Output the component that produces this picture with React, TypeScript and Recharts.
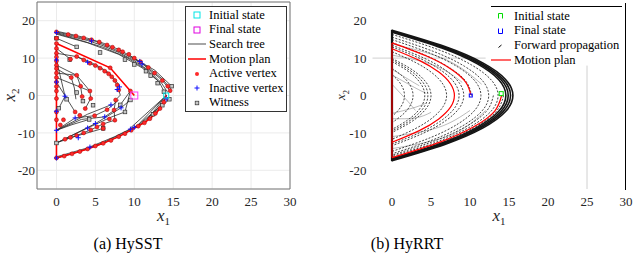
import React from "react";
import {
  ComposedChart,
  Line,
  Scatter,
  XAxis,
  YAxis,
  CartesianGrid,
  ReferenceLine,
  Legend,
  Label,
} from "recharts";

type Pt = [number, number];

const xTicks = [0, 5, 10, 15, 20, 25, 30];
const yTicks = [-20, -10, 0, 10, 20];

// ---- (a) HySST ----
const hysstTree: Pt[][] = [
  [[0, 17], [1.5, 16.3], [3, 15.5], [5, 14.5], [7, 12.8], [9, 10.8], [11, 8.5], [12.5, 6], [13.7, 3.8], [14.6, 1.3]],
  [[0, 17.2], [2, 16.3], [4, 15.3], [6, 14], [8, 12.3], [10, 10], [12, 7.2], [13.6, 4.4], [14.7, 1.8]],
  [[0, 16.8], [2, 15.7], [4, 14.7], [6, 13.3], [8, 11.5], [10, 9.3], [12, 6.5], [13.5, 3.3], [14.3, 0.8]],
  [[0, 16.6], [3, 14.8], [6, 12.9], [9, 10.2], [11.5, 7], [13.2, 3.6], [14.1, 0]],
  [[0, 16.4], [4, 14.1], [8, 11], [11, 7.4], [13, 4]],
  [[9.5, 10.5], [12.6, 6.8], [14.8, 2.5]],
  [[0, -16.7], [2, -15.6], [4, -14.3], [6, -12.8], [8, -11], [10, -8.8], [11.5, -7], [12.8, -4.8], [13.6, -2.5], [14.1, 0]],
  [[0, -16.7], [3, -14.9], [6, -12.6], [9, -9.6], [11, -7.4], [12.6, -4.4], [13.8, -1.5], [14.1, 0]],
  [[0, -16.4], [4, -14], [7.5, -11], [10.5, -7.9], [13, -3.5]],
  [[9.5, -8.7], [14.1, 0]],
  [[10.5, -7.8], [14.1, 0]],
  [[11.6, -6.6], [14.1, 0]],
  [[12.6, -4.6], [14.5, -1]],
  [[0, 15.3], [2.6, 13]],
  [[0, 12.6], [1.8, 9.7]],
  [[0, 11.3], [2.6, 10.4], [4.3, 8.6], [5.6, 7.3], [6.7, 5.8], [7.5, 4], [8, 1.5], [8.2, 0.1]],
  [[2.6, 10.4], [4.1, 9.2], [5.5, 7.7], [6.8, 6], [7.8, 3.5], [8.1, 2.3]],
  [[8.2, 0.1], [7.6, -1.2], [7.4, -3.9], [7.5, -6.6]],
  [[0, 8.1], [2.6, 5.4], [3.1, 2.5], [3.3, -0.3]],
  [[0, 7.2], [1.9, 4.8], [2.3, 2], [2.5, -1]],
  [[0, 6], [2.6, 5.4], [4.3, 1.2]],
  [[0, 4.8], [4.3, 1.2], [4.4, -0.8], [3.7, -3.5]],
  [[0, 9.5], [1.1, -0.2]],
  [[0, 3.6], [2.4, -4.4]],
  [[0.3, -3.4], [1.1, -0.2]],
  [[0, -9.3], [2.4, -6], [4.9, -5.4], [6.5, -3.8], [8, -1.2]],
  [[0, -9.3], [3.2, -6.4], [6.2, -5.7], [8.1, -3]],
  [[0, -9.3], [4, -5], [7, -2.5]],
  [[0, -9.3], [2, -7.8], [4.2, -6.4]],
  [[0, -12.7], [2.6, -10.7], [4.4, -9.2], [6, -7.6], [7.5, -6.6]],
  [[0, -12.7], [4, -8.7], [7, -5.8], [8.8, -4.4]],
  [[0, -12.7], [5, -7.5], [8.3, -3.3], [9.5, -1.2]],
  [[1.1, -11.7], [6, -8.8]],
  [[9.5, 1.2], [8.8, -4.4]],
  [[9.5, 1.2], [8.2, -2.5]],
];

const hysstPlan: Pt[][] = [
  [[14.1, 0], [13.6, -2.5], [12.8, -4.8], [11.5, -7], [10, -8.8], [8, -11], [6, -12.8], [4, -14.3], [2, -15.6], [0, -16.7]],
  [[0, -16.7], [0, 13.9]],
  [[0, 13.9], [6.9, 7.4], [9.5, 1.2], [10, 0]],
];

const hysstActive: Pt[] = [
  [0, 17], [0, 15.3], [0, 13.9], [0, 12.6], [0, 11.3], [0, 10.3], [0, 9.2], [0, 8.1], [0, 7.2], [0, 6],
  [0, 4.8], [0, 3.6], [0, 2.4], [0, 1.2], [0, -0.8], [0, -4.4], [0, -6.5], [0, -16.7],
  [1.5, 16.3], [2.5, 15.9], [3.5, 15.4], [4.5, 14.9], [5.5, 14.3], [6.5, 13.5], [7.2, 12.9], [8, 12.2],
  [8.5, 11.7], [9.3, 11], [10, 10], [10.8, 9], [11.8, 7.5], [12.6, 6], [13.6, 4], [14.3, 2.5], [14.6, 1.3],
  [1, -16.2], [2, -15.6], [3, -15], [4, -14.3], [5, -13.5], [6, -12.8], [7, -12], [8, -11], [8.8, -10.2],
  [9.6, -9.3], [10.5, -8.2], [11.3, -7.3], [12, -6.2], [12.7, -4.8], [13.3, -3.5], [13.8, -1.8],
  [2.6, 10.4], [3.5, 9.5], [4.3, 8.6], [5, 8], [5.6, 7.3], [6.2, 6.5], [6.7, 5.8], [7.1, 5], [7.5, 4],
  [7.8, 2.8], [8, 1.5], [7.6, -1.2], [7.4, -3.9], [7.5, -6.6],
  [1.1, -11.7], [1.8, -11.2], [2.6, -10.7], [3.5, -10], [4.4, -9.2], [5.2, -8.4], [6, -7.6], [6.8, -6.3], [6, -8.8],
  [1.9, 4.8], [2.6, 5.4], [3.1, 2.5], [3.3, -0.3], [4.3, 1.2], [4.4, -0.8], [3.7, -3.5], [3, -5.3],
  [2.4, -4.4], [1.8, 9.7], [9.5, 1.2], [6.9, 7.4], [0.9, -6.5], [0.5, -7.9], [4.9, -5.4], [6.5, -3.8],
];

const hysstInactive: Pt[] = [
  [0, 16.8], [0, -9.3], [0, -16.7], [0, 3.6], [0, 9.5], [4.5, 14.6], [10.7, 9.1], [11, 8.4], [4, 8.9],
  [2.4, -6], [4, -8.7], [4.3, -13.8], [7.8, 1.6], [8.1, 2.3], [9.5, -9], [10, -8.5], [14.1, -0.9],
  [1.1, -0.2], [2.8, -11.3], [5, -7.5], [6.2, -5.7], [7, -2.5], [8.3, -3.3], [0, -4.2],
];

const hysstWitness: Pt[] = [
  [2.6, 13], [14.5, -1], [14.8, 2.5], [13.8, 1], [13, 3.3], [12.1, 5.3], [11.5, 6.5], [10, 8.3], [8.8, 9.6],
  [5.6, 11.5], [0, -12.7], [8.8, -4.4], [6, -8.8], [4.2, -6.4], [0.3, -3.4], [1.3, -1], [2.6, 0.8],
  [4.7, -2.6], [3.4, -1.5], [13.6, -2.6], [12.4, -5], [0, 15.3], [1.7, 9.6], [9.5, -1.2], [8.2, -2.5],
];

const hysstStart: Pt[] = [[14.1, 0]];
const hysstGoal: Pt[] = [[10, 0]];

// ---- (b) HyRRT ----
const hyrrtArcs: Pt[][] = [
  [[0, 17.43], [6.78, 13.07], [11.63, 8.72], [14.53, 4.36], [15.5, 0], [14.53, -4.36], [11.63, -8.72], [6.78, -13.07], [0, -17.43]],
  [[0, 17.26], [6.65, 12.95], [11.4, 8.63], [14.25, 4.32], [15.2, 0], [14.25, -4.32], [11.4, -8.63], [6.65, -12.95], [0, -17.26]],
  [[0, 17.09], [6.52, 12.82], [11.18, 8.55], [13.97, 4.27], [14.9, 0], [13.97, -4.27], [11.18, -8.55], [6.52, -12.82], [0, -17.09]],
  [[0, 16.92], [6.39, 12.69], [10.95, 8.46], [13.69, 4.23], [14.6, 0], [13.69, -4.23], [10.95, -8.46], [6.39, -12.69], [0, -16.92]],
  [[0, 16.33], [5.95, 12.25], [10.2, 8.16], [12.75, 4.08], [13.6, 0], [12.75, -4.08], [10.2, -8.16], [5.95, -12.25], [0, -16.33]],
  [[0, 15.59], [5.43, 11.69], [9.3, 7.8], [11.63, 3.9], [12.4, 0], [11.63, -3.9], [9.3, -7.8], [5.43, -11.69], [0, -15.59]],
  [[0, 14.95], [4.99, 11.21], [8.55, 7.47], [10.69, 3.74], [11.4, 0], [10.69, -3.74], [8.55, -7.47], [4.99, -11.21], [0, -14.95]],
  [[0, 13.43], [4.03, 10.07], [6.9, 6.71], [8.63, 3.36], [9.2, 0], [8.63, -3.36], [6.9, -6.71], [4.03, -10.07], [0, -13.43]],
  [[0, 12.98], [3.76, 9.74], [6.45, 6.49], [8.06, 3.25], [8.6, 0], [8.06, -3.25], [6.45, -6.49], [3.76, -9.74], [0, -12.98]],
  [[0, 11.71], [3.06, 8.78], [5.25, 5.86], [6.56, 2.93], [7, 0], [6.56, -2.93], [5.25, -5.86], [3.06, -8.78], [0, -11.71]],
  [[0, 9.9], [2.19, 7.42], [3.75, 4.95], [4.69, 2.47], [5, 0], [4.69, -2.47], [3.75, -4.95], [2.19, -7.42], [0, -9.9]],
  [[0, 9.5], [2.01, 7.12], [3.45, 4.75], [4.31, 2.37], [4.6, 0], [4.31, -2.37], [3.45, -4.75], [2.01, -7.12], [0, -9.5]],
  [[0, 9.07], [1.84, 6.8], [3.15, 4.54], [3.94, 2.27], [4.2, 0], [3.94, -2.27], [3.15, -4.54], [1.84, -6.8], [0, -9.07]],
  [[0, 7.27], [1.18, 5.45], [2.03, 3.64], [2.53, 1.82], [2.7, 0], [2.53, -1.82], [2.03, -3.64], [1.18, -5.45], [0, -7.27]],
  [[0, 5.6], [0.7, 4.2], [1.2, 2.8], [1.5, 1.4], [1.6, 0], [1.5, -1.4], [1.2, -2.8], [0.7, -4.2], [0, -5.6]],
  [[13, 0], [12.19, -3.99], [9.75, -7.98], [5.69, -11.97], [0, -15.96]],
  [[14.3, 0], [13.4, -4.19], [10.72, -8.38], [6.26, -12.56], [0, -16.74]],
  [[0, 14.14], [4.46, 10.6], [7.65, 7.07], [9.56, 3.54], [10.2, 0]],
];

const hyrrtFaint: Pt[][] = [
  [[0, 7], [2.2, 4.2], [3.5, 2.6]],
  [[0, 5.5], [3.2, 1.8], [4.4, 0.6]],
  [[0, -4.8], [2.6, -3.4], [4.2, -2.2]],
  [[0, -6.2], [3, -6], [5, -4.5]],
  [[0, 3], [2, -1.5], [3, -4]],
  [[0, 10.8], [5.5, 8], [9, 3.5]],
  [[0, -11], [6, -8.5], [10, -4]],
  [[0, 13.8], [7, 9.5], [11.5, 3]],
  [[0, -14.2], [7.5, -10.6], [12, -4]],
];

const hyrrtPlan: Pt[][] = [
  [[14.05, 0], [13.17, -4.15], [10.54, -8.3], [6.15, -12.45], [0, -16.6]],
  [[0, 12.52], [3.5, 9.39], [6, 6.26], [7.5, 3.13], [8, 0], [7.5, -3.13], [6, -6.26], [3.5, -9.39], [0, -12.52]],
  [[0, 14.07], [4.42, 10.55], [7.58, 7.04], [9.47, 3.52], [10.1, 0.2]],
];
const hyrrtJump: Pt[] = [[0, -16.6], [0, 14.07]];
const hyrrtWall: Pt[] = [[0, -17.6], [0, 17.6]];

const hyrrtStart: Pt[] = [[14, 0.5]];
const hyrrtGoal: Pt[] = [[10.1, 0]];

const rows = (pts: Pt[]) => pts.map(([x, y]) => ({ x, y }));

const FONT = "'Liberation Serif', 'Times New Roman', Times, serif";
const tickStyle = { fontSize: 13, fill: "#262626", fontFamily: FONT };

const Dot = (p: any) => (
  <circle cx={p.cx} cy={p.cy} r={2} fill="#ff2a2a" stroke="#a00000" strokeWidth={0.5} />
);
const Plus = (p: any) => (
  <path d={`M${p.cx - 2.5},${p.cy}h5M${p.cx},${p.cy - 2.5}v5`} stroke="#1010ff" strokeWidth={1} />
);
const Witness = (p: any) => (
  <rect x={p.cx - 1.8} y={p.cy - 1.8} width={3.6} height={3.6} fill="#c8c8c8" stroke="#303030" strokeWidth={0.7} />
);
const Square = (color: string, s: number) => (p: any) => (
  <rect x={p.cx - s / 2} y={p.cy - s / 2} width={s} height={s} fill="none" stroke={color} strokeWidth={1} />
);

const xLabel = (x: number) => () => (
  <text x={x} y={221} textAnchor="middle" fontFamily={FONT} fontStyle="italic" fontSize={17} fill="#262626">
    x<tspan fontSize={11} dy={4} fontStyle="normal">1</tspan>
  </text>
);
const yLabel = (x: number, size: number) => () => (
  <text x={x} y={95} transform={`rotate(-90 ${x} 95)`} textAnchor="middle" fontFamily={FONT} fontStyle="italic" fontSize={size} fill="#262626">
    x<tspan fontSize={size * 0.65} dy={4} fontStyle="normal">2</tspan>
  </text>
);

const legendRow = { display: "flex", alignItems: "center", height: 14.6, whiteSpace: "nowrap" } as const;

const HysstLegend = () => {
  const items: [string, React.ReactNode][] = [
    ["Initial state", <rect x={6} y={3} width={6} height={6} fill="none" stroke="#00e5e5" />],
    ["Final state", <rect x={6} y={3} width={6} height={6} fill="none" stroke="#e000e0" />],
    ["Search tree", <line x1={0} y1={6} x2={18} y2={6} stroke="#a6a6a6" strokeWidth={2} />],
    ["Motion plan", <line x1={0} y1={6} x2={18} y2={6} stroke="#ff0000" strokeWidth={1.5} />],
    ["Active vertex", <circle cx={9} cy={6} r={2} fill="#ff2a2a" />],
    ["Inactive vertex", <path d="M6.5,6h5M9,3.5v5" stroke="#1010ff" />],
    ["Witness", <rect x={7.2} y={4.2} width={3.6} height={3.6} fill="#c8c8c8" stroke="#303030" strokeWidth={0.7} />],
  ];
  return (
    <div style={{ border: "1px solid #333", background: "#fff", padding: "1px 0", fontFamily: FONT, fontSize: 12.5, color: "#000" }}>
      {items.map(([t, icon]) => (
        <div key={t} style={legendRow}>
          <svg width={20} height={12} style={{ marginLeft: 2, marginRight: 1, flex: "none" }}>{icon}</svg>
          <span>{t}</span>
        </div>
      ))}
    </div>
  );
};

const HyrrtLegend = () => {
  const items: [string, React.ReactNode][] = [
    ["Initial state", <path d="M7.5,8.5v-5h4v5" fill="none" stroke="#00dd00" />],
    ["Final state", <path d="M7.5,3.5v5h4v-5" fill="none" stroke="#0000ff" />],
    ["Forward propagation", <path d="M7.5,8.5l3,-2.5" stroke="#000" strokeWidth={1} />],
    ["Motion plan", <line x1={0} y1={6} x2={20} y2={6} stroke="#ff0000" strokeWidth={1.2} />],
  ];
  return (
    <div style={{ borderTop: "1px solid #000", background: "transparent", paddingTop: 2, fontFamily: FONT, fontSize: 12.5, color: "#000" }}>
      {items.map(([t, icon]) => (
        <div key={t} style={legendRow}>
          <svg width={20} height={12} style={{ marginRight: 3, flex: "none" }}>{icon}</svg>
          <span>{t}</span>
        </div>
      ))}
    </div>
  );
};

function HysstChart() {
  return (
    <ComposedChart width={300} height={230} margin={{ top: 2, right: 10, bottom: 11, left: 7 }}>
      <CartesianGrid stroke="#ebebeb" />
      <XAxis type="number" dataKey="x" domain={[-2.5, 30]} ticks={xTicks} allowDataOverflow
        tick={tickStyle} tickLine={false} tickSize={6} tickMargin={2} height={30} stroke="#777">
        <Label content={xLabel(163.5)} />
      </XAxis>
      <YAxis type="number" dataKey="y" domain={[-25, 25]} ticks={yTicks} allowDataOverflow
        tick={tickStyle} tickLine={false} tickSize={2} tickMargin={0} width={30} stroke="#777">
        <Label content={yLabel(15, 17)} />
      </YAxis>
      <ReferenceLine x={30} stroke="#777" ifOverflow="visible" />
      <ReferenceLine y={25} stroke="#777" ifOverflow="visible" />
      {hysstTree.map((poly, i) => (
        <Line key={`t${i}`} data={rows(poly)} dataKey="y" type="linear" stroke="#2a2a2a" strokeWidth={0.8}
          dot={false} isAnimationActive={false} />
      ))}
      {hysstPlan.map((poly, i) => (
        <Line key={`p${i}`} data={rows(poly)} dataKey="y" type="linear" stroke="#ff0000" strokeWidth={1.6}
          dot={false} isAnimationActive={false} />
      ))}
      <Scatter data={rows(hysstWitness)} dataKey="y" shape={Witness} isAnimationActive={false} />
      <Scatter data={rows(hysstActive)} dataKey="y" shape={Dot} isAnimationActive={false} />
      <Scatter data={rows(hysstInactive)} dataKey="y" shape={Plus} isAnimationActive={false} />
      <Scatter data={rows(hysstStart)} dataKey="y" shape={Square("#00e5e5", 5)} isAnimationActive={false} />
      <Scatter data={rows(hysstGoal)} dataKey="y" shape={Square("#ff40ff", 7)} isAnimationActive={false} />
      <Legend layout="vertical" align="center" verticalAlign="middle" content={HysstLegend}
        wrapperStyle={{ left: 185, top: 6, width: 102, height: 104 }} />
    </ComposedChart>
  );
}

function HyrrtChart() {
  return (
    <ComposedChart width={316} height={230} margin={{ top: 2, right: 8, bottom: 11, left: 24.5 }}>
      <XAxis type="number" dataKey="x" domain={[-2.5, 30]} ticks={xTicks} allowDataOverflow axisLine={false}
        tick={tickStyle} tickLine={false} tickSize={6} tickMargin={2} height={30}>
        <Label content={xLabel(181)} />
      </XAxis>
      <YAxis type="number" dataKey="y" domain={[-25, 25]} ticks={yTicks} allowDataOverflow axisLine={false}
        tick={tickStyle} tickLine={false} tickSize={6} tickMargin={0} width={30}>
        <Label content={yLabel(27, 13)} />
      </YAxis>
      <ReferenceLine segment={[{ x: -2.5, y: 10 }, { x: 12, y: 10 }]} stroke="#d0d0d0" ifOverflow="visible" />
      <ReferenceLine segment={[{ x: 25, y: -25 }, { x: 25, y: 8 }]} stroke="#d0d0d0" ifOverflow="visible" />
      {hyrrtFaint.map((poly, i) => (
        <Line key={`f${i}`} data={rows(poly)} dataKey="y" type="natural" stroke="#777" strokeWidth={0.5}
          dot={false} isAnimationActive={false} />
      ))}
      {hyrrtArcs.map((poly, i) => (
        <Line key={`a${i}`} data={rows(poly)} dataKey="y" type="natural" stroke="#151515" strokeWidth={i < 4 ? 1.6 : 0.8}
          strokeDasharray={i < 4 ? undefined : "2 1.5"} dot={false} isAnimationActive={false} />
      ))}
      <Line data={rows(hyrrtWall)} dataKey="y" type="linear" stroke="#111" strokeWidth={2.2} dot={false} isAnimationActive={false} />
      {hyrrtPlan.map((poly, i) => (
        <Line key={`r${i}`} data={rows(poly)} dataKey="y" type="natural" stroke="#ff0000" strokeWidth={1.2}
          dot={false} isAnimationActive={false} />
      ))}
      <Line data={rows(hyrrtJump)} dataKey="y" type="linear" stroke="#ff0000" strokeWidth={1.2} dot={false} isAnimationActive={false} />
      <Scatter data={rows(hyrrtStart)} dataKey="y" shape={Square("#00dd00", 4)} isAnimationActive={false} />
      <Scatter data={rows(hyrrtGoal)} dataKey="y" shape={Square("#0000ff", 3)} isAnimationActive={false} />
      <Legend layout="vertical" align="center" verticalAlign="middle" content={HyrrtLegend}
        wrapperStyle={{ left: 173, top: 6, width: 131, height: 62 }} />
    </ComposedChart>
  );
}

export default function App() {
  const caption = { position: "absolute", top: 235, fontFamily: FONT, fontSize: 16, color: "#000", width: 200, textAlign: "center" } as const;
  return (
    <div style={{ position: "absolute", left: 0, top: 0, width: 634, height: 268, background: "#fff", overflow: "hidden" }}>
      <div style={{ position: "absolute", left: 0, top: 0 }}>
        <HysstChart />
      </div>
      <div style={{ position: "absolute", left: 318, top: 0 }}>
        <HyrrtChart />
      </div>
      {/* right frame edge of panel (b) */}
      <div style={{ position: "absolute", left: 625, top: 3, width: 1, height: 187, background: "#000" }} />
      <div style={{ ...caption, left: 28 }}>(a) HySST</div>
      <div style={{ ...caption, left: 307 }}>(b) HyRRT</div>
    </div>
  );
}
